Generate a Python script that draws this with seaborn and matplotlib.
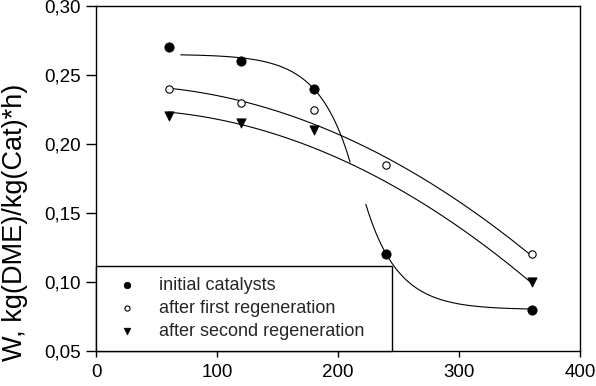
import matplotlib
matplotlib.use("Agg")
import matplotlib.pyplot as plt
from matplotlib.ticker import FuncFormatter
import numpy as np
import pandas as pd
import seaborn as sns

# measured points
time_initial = [60, 120, 180, 240, 360]
w_initial = [0.27, 0.26, 0.24, 0.12, 0.08]
time_first = [60, 120, 180, 240, 360]
w_first = [0.24, 0.23, 0.225, 0.185, 0.12]
time_second = [60, 120, 180, 360]
w_second = [0.22, 0.215, 0.21, 0.10]

labels = ["initial catalysts", "after first regeneration", "after second regeneration"]

curve_first_t = [60, 119, 200, 276, 360]
curve_first_w = [0.240, 0.2314, 0.2095, 0.169, 0.120]
curve_second_t = [60, 119, 197, 276, 360]
curve_second_w = [0.222, 0.2162, 0.191, 0.1522, 0.100]

# fitted curve parameters for the initial catalyst (two branches)
branch1_range = (70, 210)
branch1_params = (0.265, 0.025, 0.038, 180)   # plateau, amplitude, rate, pivot
branch2_range = (223, 360)
branch2_params = (0.08, 0.04, 0.038, 240)     # floor, amplitude, rate, pivot

sns.set_theme(style="ticks")
plt.rcParams["font.family"] = ["Liberation Sans", "DejaVu Sans"]

fig = plt.figure(figsize=(5.96, 3.86), dpi=100)
ax = fig.add_axes([96 / 596, 35 / 386, 484 / 596, 345 / 386])

for tx, wy in [(curve_first_t, curve_first_w), (curve_second_t, curve_second_w)]:
    coef = np.polyfit(tx, wy, 2)
    xs = np.linspace(min(tx), max(tx), 200)
    sns.lineplot(x=xs, y=np.polyval(coef, xs), ax=ax, color="black", lw=0.8, legend=False)

p, a, k, c = branch1_params
xs = np.linspace(*branch1_range, 200)
sns.lineplot(x=xs, y=p - a * np.exp(k * (xs - c)), ax=ax, color="black", lw=0.8, legend=False)
f, a, k, c = branch2_params
xs = np.linspace(*branch2_range, 200)
sns.lineplot(x=xs, y=f + a * np.exp(-k * (xs - c)), ax=ax, color="black", lw=0.8, legend=False)

sns.scatterplot(x=time_initial, y=w_initial, ax=ax, marker="o", color="black",
                edgecolor="black", s=45, label=labels[0], zorder=3)
sns.scatterplot(x=time_first, y=w_first, ax=ax, marker="o", facecolor="white",
                edgecolor="black", linewidth=0.8, s=28, label=labels[1], zorder=3)
sns.scatterplot(x=time_second, y=w_second, ax=ax, marker="v", color="black",
                edgecolor="black", s=45, label=labels[2], zorder=3)

ax.set_xlim(0, 400)
ax.set_ylim(0.05, 0.30)
ax.set_xticks([0, 100, 200, 300, 400])
ax.set_yticks([0.05, 0.10, 0.15, 0.20, 0.25, 0.30])
ax.yaxis.set_major_formatter(FuncFormatter(lambda v, _: f"{v:.2f}".replace(".", ",")))
ax.tick_params(direction="out", width=1, colors="black", labelsize=13.5)
ax.tick_params(axis="y", length=7, pad=4)
ax.tick_params(axis="x", length=4.5, pad=5)
for s in ax.spines.values():
    s.set_color("black")
    s.set_linewidth(1.0)
ax.set_xlabel("")
ax.set_ylabel("")
fig.text(15 / 596, 1 - 222 / 386, "W, kg(DME)/kg(Cat)*h)", rotation=90, fontsize=19.5,
         ha="center", va="center", color="black")

leg = ax.legend(loc="lower left", bbox_to_anchor=(0, 0, 0.612, 0.255), mode="expand",
                borderaxespad=0, frameon=True, fancybox=False, fontsize=13,
                handletextpad=0.67, labelspacing=0.33, borderpad=0.62, handlelength=2.2,
                markerscale=0.7)
leg.get_frame().set_edgecolor("black")
leg.get_frame().set_linewidth(1.0)
leg.get_frame().set_alpha(1)

fig.savefig("out.png", dpi=100)
